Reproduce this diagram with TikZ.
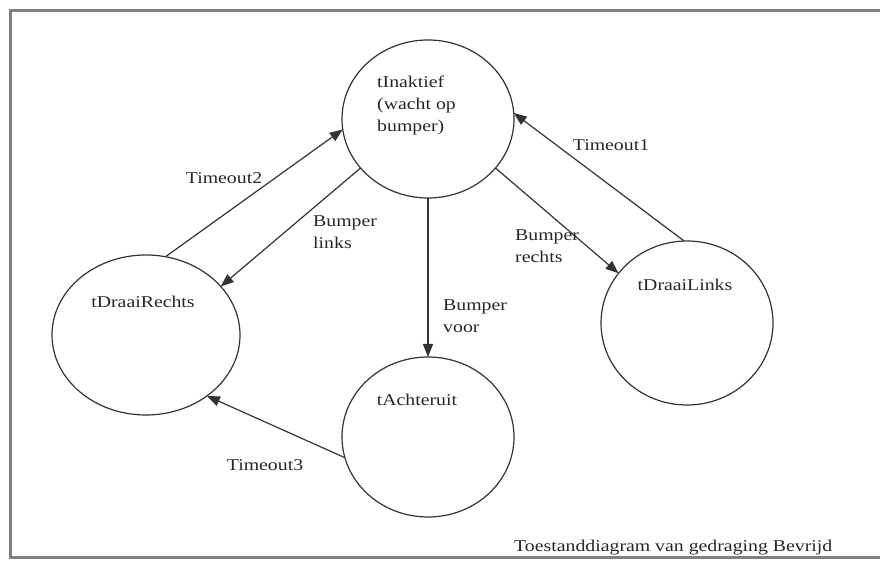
\documentclass[tikz,border=0pt]{standalone}
\usepackage{fontspec}
\setmainfont{Liberation Serif}[FakeStretch=1.2]
\usepackage{tikz}
\usetikzlibrary{shapes,arrows.meta,positioning,calc}

\tikzset{
  state/.style={draw=black!80, line width=1.2pt, ellipse, inner sep=0pt, outer sep=0pt},
  txt/.style={text=black!85, font=\fontsize{16.5}{22}\selectfont, inner sep=0pt},
  trans/.style={draw=black!80, line width=1.2pt, -{Triangle[length=13pt,width=10pt]}},
}

\begin{document}
\begin{tikzpicture}[x=1pt,y=1pt]
    \useasboundingbox (0,0) rectangle (880,561);
    % Frame
    \draw[black!50, line width=3pt] (880,550) -| (10,3) -- (880,3);

    % States
    \node[state, minimum width=172pt, minimum height=158pt] (inaktief) at (428,442) {};
    \node[state, minimum width=188pt, minimum height=160pt] (rechts) at (146,226) {};
    \node[state, minimum width=172pt, minimum height=164pt] (links) at (687,238) {};
    \node[state, minimum width=172pt, minimum height=160pt] (achter) at (428,124) {};

    \node[txt, align=left, anchor=west] (inaktief-lbl) at (377,456) {tInaktief\\(wacht op\\bumper)};
    \node[txt] (rechts-lbl) at (143,259) {tDraaiRechts};
    \node[txt] (links-lbl) at (685,276) {tDraaiLinks};
    \node[txt] (achter-lbl) at (417,161) {tAchteruit};

    % Transitions
    \draw[trans] (rechts.76) -- (inaktief.187);
    \draw[trans] (inaktief.216) -- (rechts.33);
    \draw[trans] (inaktief.270) -- (achter.90);
    \draw[trans] (inaktief.324) -- (links.144);
    \draw[trans] (links.92) -- (inaktief.4);
    \draw[trans] (achter.194) -- (rechts.315);

    \node[txt] (timeout2) at (224,383) {Timeout2};
    \node[txt, align=left, anchor=west] (bumper-l) at (313,329) {Bumper\\links};
    \node[txt, align=left, anchor=west] (bumper-r) at (515,315) {Bumper\\rechts};
    \node[txt, align=left, anchor=west] (bumper-v) at (443,245) {Bumper\\voor};
    \node[txt] (timeout1) at (611,416) {Timeout1};
    \node[txt] (timeout3) at (265,96) {Timeout3};

    % Caption
    \node[txt, anchor=west] (caption) at (514,13) {Toestanddiagram van gedraging Bevrijd};
\end{tikzpicture}
\end{document}
